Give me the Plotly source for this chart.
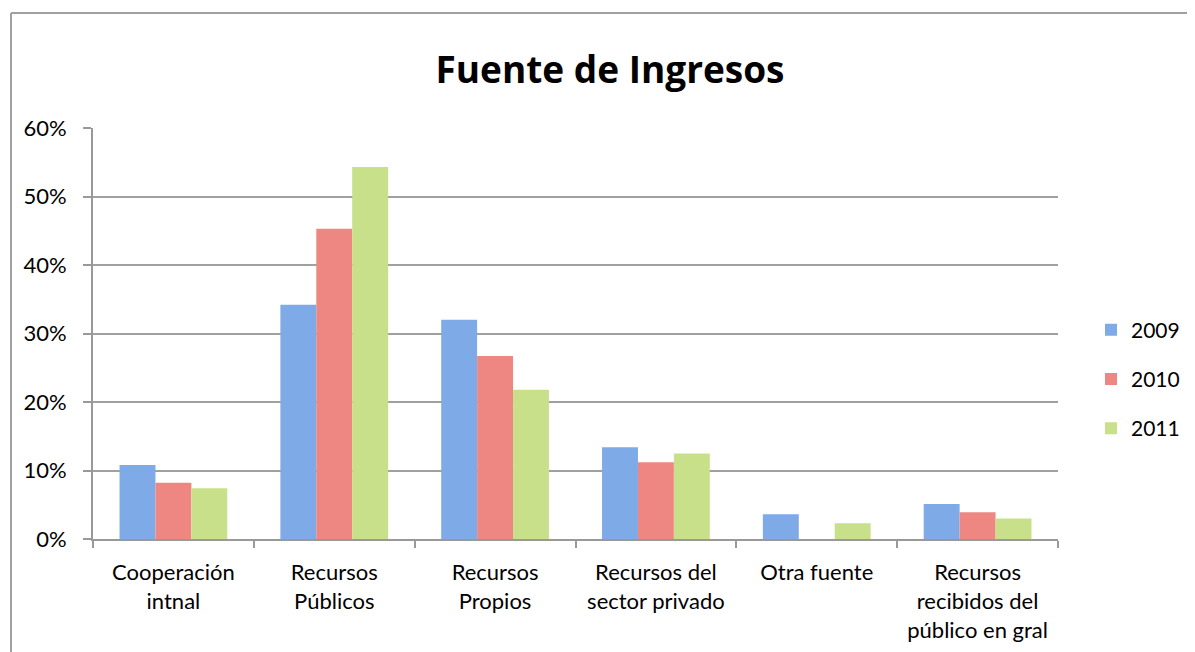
import plotly.graph_objects as go

categories = ["Cooperación<br>intnal", "Recursos<br>Públicos", "Recursos<br>Propios",
              "Recursos del<br>sector privado", "Otra fuente",
              "Recursos<br>recibidos del<br>público en gral"]
years = ["2009", "2010", "2011"]
v2009 = [0.108, 0.342, 0.320, 0.134, 0.036, 0.051]
v2010 = [0.082, 0.453, 0.267, 0.112, 0.0, 0.039]
v2011 = [0.074, 0.543, 0.218, 0.125, 0.023, 0.030]
series = [v2009, v2010, v2011]
colors = ["#7EAAE8", "#EE8781", "#C8E08A"]
tick_vals = [0, 0.1, 0.2, 0.3, 0.4, 0.5, 0.6]
tick_text = ["0%", "10%", "20%", "30%", "40%", "50%", "60%"]

OFF = 8  # page body margin
W, H = 1195 - OFF, 652 - OFF
L, R, T, B = 93 - OFF, 1058 - OFF, 128 - OFF, 539 - OFF

fig = go.Figure()
for name, vals, col in zip(years, series, colors):
    fig.add_trace(go.Bar(x=categories, y=vals, name=name, legendgroup=name,
                         marker=dict(color=col, line=dict(width=0))))

def px_x(p):
    return (p - OFF - L) / (R - L)

def px_y(p):
    return (B - (p - OFF)) / (B - T)

fig.update_layout(
    width=W, height=H,
    margin=dict(l=L, r=W - R, t=T, b=H - B, autoexpand=False),
    paper_bgcolor="white", plot_bgcolor="white",
    font=dict(family="Lato, Open Sans, sans-serif", size=20, color="black"),
    title=dict(text="<b>Fuente de Ingresos</b>", xref="paper", x=px_x(610),
               xanchor="center", y=1 - (70 - OFF) / H, yanchor="middle",
               font=dict(size=37, family="Open Sans, Lato, sans-serif")),
    barmode="group", bargap=0.33, bargroupgap=0,
    showlegend=True,
    legend=dict(x=px_x(1091), xanchor="left", y=px_y(379), yanchor="middle",
                traceorder="grouped", tracegroupgap=19,
                font=dict(size=21), bgcolor="rgba(0,0,0,0)"),
    xaxis=dict(showline=True, linecolor="#999999", linewidth=2,
               ticks="outside", tickson="boundaries", ticklen=7,
               tickcolor="#999999", tickwidth=2, showgrid=False,
               ticklabelstandoff=13,
               tickfont=dict(size=22)),
    yaxis=dict(range=[0, 0.6], tickvals=tick_vals, ticktext=tick_text,
               showline=True, linecolor="#999999", linewidth=2,
               ticks="outside", ticklen=8, tickcolor="#999999", tickwidth=2,
               showgrid=True, gridcolor="#A0A0A0", gridwidth=2,
               ticklabelstandoff=12,
               zeroline=False, tickfont=dict(size=22)),
    shapes=[
        dict(type="line", xref="paper", yref="paper",
             x0=px_x(11), x1=px_x(1200), y0=px_y(13), y1=px_y(13),
             line=dict(color="#A0A0A0", width=2)),
        dict(type="line", xref="paper", yref="paper",
             x0=px_x(11), x1=px_x(11), y0=px_y(13), y1=px_y(660),
             line=dict(color="#A0A0A0", width=2)),
    ],
)

fig.write_html("out.html")
